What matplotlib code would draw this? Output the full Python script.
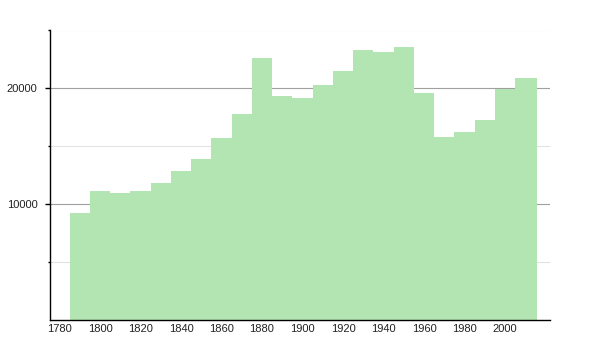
import matplotlib
matplotlib.use("Agg")
import matplotlib.pyplot as plt
import numpy as np

# census years and population
years = [1790, 1800, 1810, 1820, 1830, 1840, 1850, 1860, 1870, 1880, 1890, 1900,
         1910, 1920, 1930, 1940, 1950, 1960, 1970, 1980, 1990, 2000, 2010]
population = [9280, 11150, 10925, 11100, 11790, 12850, 13890, 15680, 17780, 22590,
              19330, 19140, 20260, 21540, 23340, 23140, 23570, 19590, 15760, 16200,
              17260, 19940, 20920]
x_ticks = list(range(1780, 2001, 20))
y_major = [10000, 20000]
y_minor = [5000, 15000, 25000]

plt.rcParams['font.family'] = ['Liberation Sans', 'DejaVu Sans']

fig = plt.figure(figsize=(6, 3.5), dpi=100)
ax = fig.add_axes([50 / 600, 30 / 350, 500 / 600, 289.5 / 350])

# step edges halfway between the census years
yrs = np.array(years, dtype=float)
edges = np.concatenate([yrs - 5, [yrs[-1] + 6]])
ax.stairs(population, edges, fill=True, color='#b3e5b3', linewidth=0, zorder=2)

ax.set_xlim(1775.3, 2022.2)
ax.set_ylim(0, 25000)

ax.set_xticks(x_ticks)
ax.set_xticklabels([str(t) for t in x_ticks])
ax.set_yticks(y_major)
ax.set_yticklabels([str(t) for t in y_major])
ax.set_yticks(y_minor, minor=True)

ax.grid(axis='y', which='major', color='#a0a0a0', linewidth=0.8, zorder=0)
ax.grid(axis='y', which='minor', color='#e2e2e2', linewidth=0.8, zorder=0)
ax.set_axisbelow(True)

for s in ['top', 'right']:
    ax.spines[s].set_visible(False)
for s in ['left', 'bottom']:
    ax.spines[s].set_color('black')
    ax.spines[s].set_linewidth(1.0)

ax.tick_params(axis='x', length=0, labelsize=8, colors='#222222', pad=3)
ax.tick_params(axis='y', which='major', length=3.6, width=1, labelsize=8,
               colors='#222222', pad=5.5)
ax.tick_params(axis='y', which='minor', length=1.5, width=1, color='black')
ax.tick_params(axis='y', which='major', color='black')

fig.savefig("out.png", dpi=100)
